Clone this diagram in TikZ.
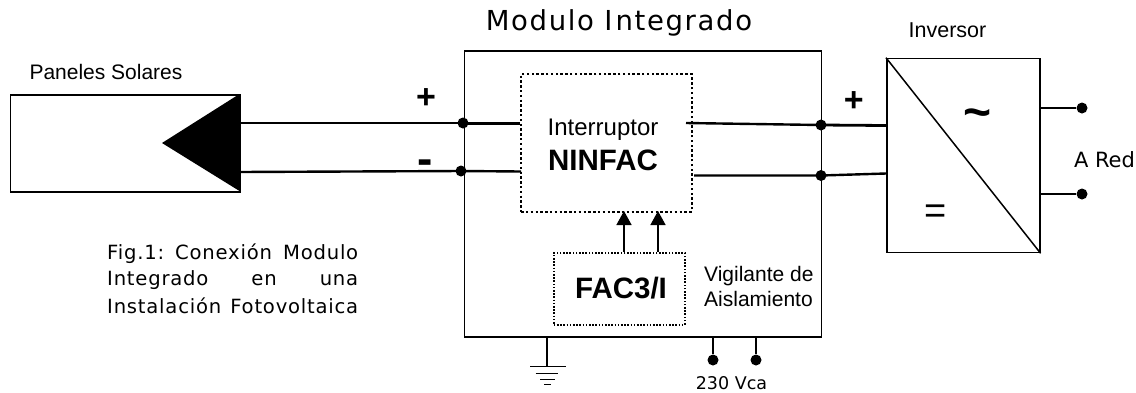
\documentclass[tikz,border=0pt]{standalone}
\usepackage{fontspec}
\setmainfont{Liberation Sans}
\newfontfamily\verd{DejaVu Sans}
\newfontfamily\verdsp[LetterSpace=6]{DejaVu Sans}
\newfontfamily\verdcap[LetterSpace=4]{DejaVu Sans}
\usetikzlibrary{arrows.meta}
\tikzset{
  x=1pt,y=-1pt,
  box/.style={draw=black,line width=1.6pt,fill=white,inner sep=0pt,anchor=north west},
  dotbox/.style={draw=black,inner sep=0pt,anchor=north west,line cap=butt},
  wire/.style={draw=black,line width=2.4pt},
  thinwire/.style={draw=black,line width=1.5pt},
  junction/.style={circle,fill=black,inner sep=0pt,minimum size=11pt},
  lbl/.style={inner sep=0pt,text=black},
  feed/.style={draw=black,line width=1.5pt,-{Triangle[length=14pt,width=15pt]}},
}
\begin{document}
\begin{tikzpicture}
\useasboundingbox (0,0) rectangle (1136,392);
% panels
\node[box,minimum width=229.5pt,minimum height=97pt] (panel) at (9.5,94) {};
\fill[black] (239.5,94) -- (239.5,191) -- (162,143) -- cycle;
\node[lbl] (tpanel) at (106,72) {\fontsize{21}{24}\selectfont Paneles Solares};
% module
\node[box,minimum width=357pt,minimum height=286pt] (module) at (463.5,50) {};
\node[lbl] (tmodule) at (619,23) {\verdsp\fontsize{27.5}{30}\selectfont Modulo I\kern3pt ntegrado};
% inverter
\node[box,minimum width=153pt,minimum height=194pt] (inv) at (886,57.7) {};
\draw[thinwire] (inv.north west) -- (inv.south east);
\node[lbl] (tinv) at (947.5,30) {\fontsize{21.5}{24}\selectfont Inversor};
\node[lbl] (tilde) at (978,119) {\fontsize{48}{48}\selectfont\bfseries\char"7E};
\node[lbl] (eq) at (936,214) {\fontsize{38}{38}\selectfont =};
% ninfac
\node[dotbox,line width=2.2pt,dash pattern=on 2.4pt off 2.4pt,minimum width=170.5pt,minimum height=137.5pt] (nin) at (520,73) {};
\node[lbl] (tint) at (603,130) {\fontsize{24}{28}\selectfont Interruptor};
\node[lbl] (tnin) at (603,160) {\fontsize{29.5}{33}\selectfont\bfseries NINFAC};
% fac
\node[dotbox,line width=1.5pt,dash pattern=on 1.6pt off 1.6pt,minimum width=131pt,minimum height=72pt] (fac) at (553,252) {};
\node[lbl] (tfac) at (621,288) {\fontsize{29.5}{33}\selectfont\bfseries FAC3/I};
\node[lbl,align=left,anchor=north west,font=\fontsize{21}{25}\selectfont] (tvig) at (704,266) {Vigilante de\\Aislamiento};
% signs
\node[lbl] (plus1) at (426,99) {\fontsize{34}{34}\selectfont\bfseries +};
\node[lbl] (minus1) at (425.5,167) {\fontsize{46}{46}\selectfont\bfseries -};
\node[lbl] (plus2) at (853.7,101.5) {\fontsize{34}{34}\selectfont\bfseries +};
% junctions
\node[junction] (j1) at (463,123) {};
\node[junction] (j2) at (461,171) {};
\node[junction] (j3) at (821,125) {};
\node[junction] (j4) at (821,175.5) {};
% wires
\coordinate (p1) at (239,123);
\coordinate (p2) at (239,172);
\coordinate (n1) at (520,123);
\coordinate (n2) at (521,171.5);
\coordinate (n3) at (686,123);
\coordinate (n4) at (694,175.5);
\coordinate (i1) at (886,125.5);
\coordinate (i2) at (886,173.5);
\draw[wire] (p1) -- (j1.center);
\draw[wire,line width=3pt] (j1.center) -- (n1);
\draw[wire] (p2) -- (j2.center) -- (n2);
\draw[wire] (n3) -- (j3.center);
\draw[wire,line width=2.8pt] (j3.center) -- (i1);
\draw[wire] (n4) -- (j4.center) -- (i2);
% outputs
\node[junction] (o1) at (1082,108) {};
\node[junction] (o2) at (1082,194) {};
\coordinate (i3) at (1039,108);
\coordinate (i4) at (1039,194);
\draw[thinwire] (i3) -- (o1);
\draw[thinwire] (i4) -- (o2);
\node[lbl] (tred) at (1104.5,160) {\verd\fontsize{21}{24}\selectfont A Red};
% feedback arrows
\coordinate (a1) at (624,252);
\coordinate (a2) at (658,252);
\coordinate (b1) at (624,211);
\coordinate (b2) at (658,211);
\draw[feed] (a1) -- (b1);
\draw[feed] (a2) -- (b2);
% ground
\coordinate (g0) at (547,336);
\coordinate (g1) at (547,366.7);
\draw[thinwire,line width=1.7pt] (g0) -- (g1);
\draw[thinwire] (530,366.7) -- (566,366.7);
\draw[thinwire] (535.7,373.3) -- (558.3,373.3);
\draw[thinwire] (540,379.3) -- (555,379.3);
\draw[thinwire] (544,384.5) -- (551,384.5);
% supply
\node[junction] (s1) at (713,360) {};
\node[junction] (s2) at (756,360) {};
\coordinate (m1) at (713,336);
\coordinate (m2) at (756,336);
\draw[thinwire] (m1) -- (s1);
\draw[thinwire] (m2) -- (s2);
\node[lbl] (tv) at (731.5,383) {\verd\fontsize{17.5}{20}\selectfont 230 Vca};
% caption
\node[lbl,anchor=west] (c1) at (107,254) {\hbox to 251pt{\verdcap\fontsize{19.6}{24}\selectfont Fig.1:\hfil Conexión\hfil Modulo}};
\node[lbl,anchor=west] (c2) at (107,280.5) {\hbox to 251pt{\verdcap\fontsize{19.6}{24}\selectfont Integrado\hfil en\hfil una}};
\node[lbl,anchor=west] (c3) at (107,305.5) {\hbox to 251pt{\verdcap\fontsize{19.6}{24}\selectfont Instalación\hfil Fotovoltaica}};
\end{tikzpicture}
\end{document}
